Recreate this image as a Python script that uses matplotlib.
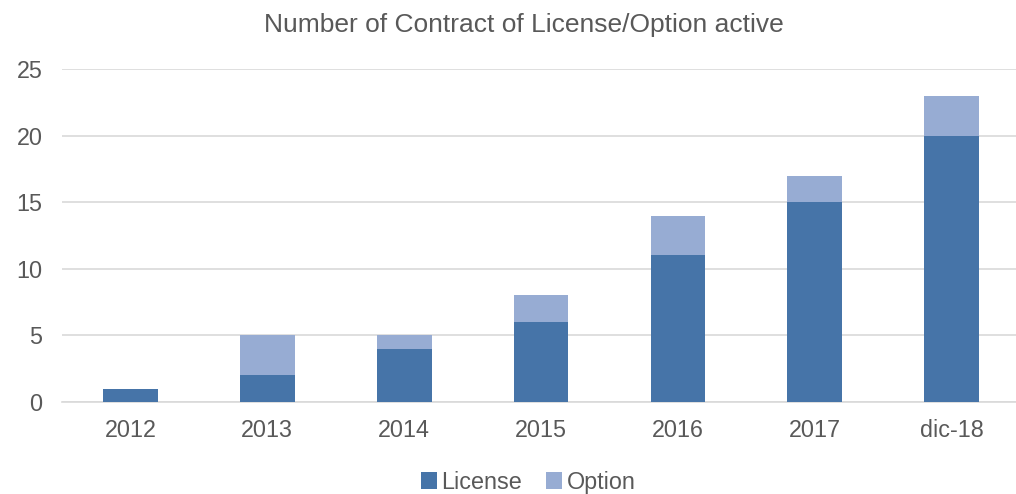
import matplotlib
matplotlib.use("Agg")
import matplotlib.pyplot as plt
import numpy as np

YEARS = ["2012", "2013", "2014", "2015", "2016", "2017", "dic-18"]
LICENSE = [1, 2, 4, 6, 11, 15, 20]
OPTION = [0, 3, 1, 2, 3, 2, 3]

C_LIC = "#4674A8"
C_OPT = "#97ACD3"
TXT = "#595959"

plt.rcParams["font.family"] = ["Liberation Sans", "DejaVu Sans"]

fig = plt.figure(figsize=(10.16, 4.94), dpi=100)
ax = fig.add_axes([62 / 1016, 92 / 494, 954 / 1016, 333 / 494])

x = np.arange(len(YEARS))
w = 0.4
ax.bar(x, LICENSE, w, color=C_LIC, label="License", zorder=3)
ax.bar(x, OPTION, w, bottom=LICENSE, color=C_OPT, label="Option", zorder=3)

ax.set_xlim(-0.5, 6.47)
ax.set_ylim(0, 25)
ax.set_yticks(range(0, 26, 5))
ax.set_xticks(x)
ax.set_xticklabels(YEARS)
ax.yaxis.grid(True, color="#D9D9D9", linewidth=1.2, zorder=0)
ax.set_axisbelow(True)
for s in ["top", "right", "left"]:
    ax.spines[s].set_visible(False)
ax.spines["bottom"].set_color("#D9D9D9")
ax.spines["bottom"].set_linewidth(1.2)
ax.tick_params(axis="both", length=0, labelsize=16.8, colors=TXT)
ax.tick_params(axis="x", pad=12)
ax.tick_params(axis="y", pad=14)

fig.text(523.5 / 1016, 1 - 25 / 494, "Number of Contract of License/Option active",
         ha="center", va="center", fontsize=19, color=TXT)

leg = fig.legend(loc="center", bbox_to_anchor=(528 / 1016, 1 - 482 / 494), ncol=2,
                 frameon=False, fontsize=16.8, handlelength=0.7, handleheight=0.7,
                 handletextpad=0.2, columnspacing=1.0, borderaxespad=0)
for t in leg.get_texts():
    t.set_color(TXT)

fig.savefig("out.png", dpi=100)
